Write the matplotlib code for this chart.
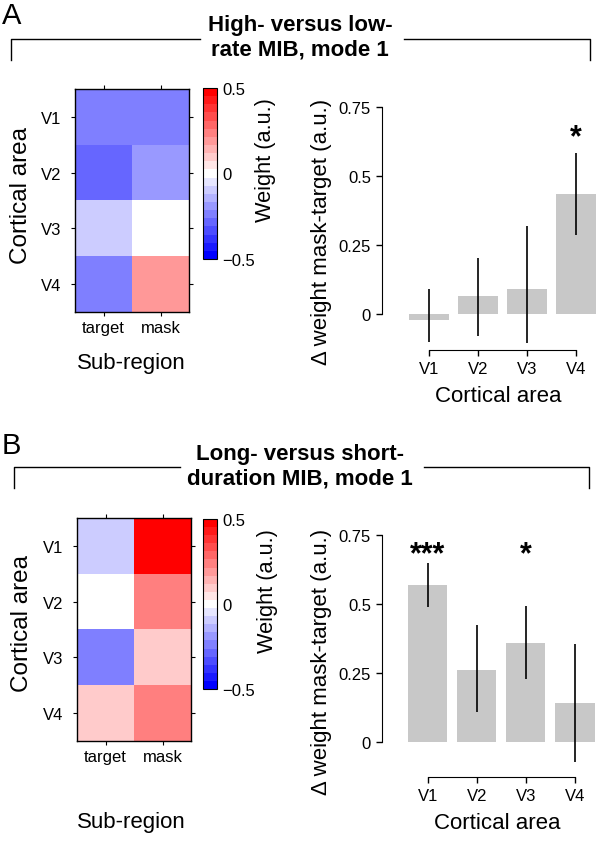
import numpy as np
import matplotlib
matplotlib.use("Agg")
import matplotlib.pyplot as plt
from matplotlib.lines import Line2D

plt.rcParams['font.family'] = ['Liberation Sans', 'DejaVu Sans']

# データ
areas = ['V1', 'V2', 'V3', 'V4']
subregions = ['target', 'mask']

# 重み (行: 領域, 列: target / mask)
weights_a = [[-0.225, -0.225],
             [-0.285, -0.175],
             [-0.11, 0.0],
             [-0.225, 0.175]]
weights_b = [[-0.115, 0.5],
             [0.0, 0.235],
             [-0.225, 0.115],
             [0.115, 0.235]]

# mask - target の差分と信頼区間
diff_a = [-0.02, 0.064, 0.09, 0.437]
low_a = [-0.10, -0.081, -0.103, 0.287]
high_a = [0.09, 0.205, 0.32, 0.586]
stars_a = ['', '', '', '*']

diff_b = [0.57, 0.263, 0.36, 0.141]
low_b = [0.49, 0.109, 0.227, -0.072]
high_b = [0.65, 0.423, 0.495, 0.354]
stars_b = ['***', '', '*', '']

title_a = "High- versus low-\nrate MIB, mode 1"
title_b = "Long- versus short-\nduration MIB, mode 1"

W, H = 600, 853
fig = plt.figure(figsize=(W / 100, H / 100), dpi=100)
cmap = plt.get_cmap('bwr', 21)


def px_rect(x0, y0, x1, y1):
    # ピクセル座標 -> figure座標
    return [x0 / W, 1 - y1 / H, (x1 - x0) / W, (y1 - y0) / H]


def label(x, y, s, size, rot=0, **kw):
    fig.text(x / W, 1 - y / H, s, fontsize=size, rotation=rot,
             ha='center', va='center', **kw)


def draw_heatmap(rect, cbar_rect, data, ylab_pos, sub_pos, weight_pos):
    ax = fig.add_axes(px_rect(*rect))
    im = ax.imshow(np.array(data), cmap=cmap, vmin=-0.5, vmax=0.5,
                   aspect='auto', interpolation='nearest')
    ax.set_xticks(range(len(subregions)))
    ax.set_xticklabels(subregions, fontsize=12)
    ax.set_yticks(range(len(areas)))
    ax.set_yticklabels(areas, fontsize=12)
    ax.tick_params(direction='out', length=3, width=0.8, top=True, right=True)
    ax.tick_params(axis='x', pad=3)
    ax.tick_params(axis='y', pad=7)
    for s in ax.spines.values():
        s.set_linewidth(1.0)
    label(*ylab_pos, "Cortical area", 17.5, rot=90)
    label(*sub_pos, "Sub-region", 16)

    cax = fig.add_axes(px_rect(*cbar_rect))
    cb = fig.colorbar(im, cax=cax, ticks=[-0.5, 0, 0.5])
    cb.ax.set_yticklabels(['\u22120.5', '0', '0.5'], fontsize=12)
    cb.ax.tick_params(length=0, pad=4)
    cb.outline.set_linewidth(0.8)
    label(*weight_pos, "Weight (a.u.)", 15.7, rot=90)


def draw_bars(rect, xlim, ylim, diff, low, high, stars, star_y, xlab_pos, ylab_pos):
    ax = fig.add_axes(px_rect(*rect))
    x = np.arange(len(areas))
    ax.bar(x, diff, width=0.8, color='#c8c8c8', linewidth=0)
    ax.vlines(x, low, high, color='black', linewidth=1.2)
    for xi, s in zip(x, stars):
        if s:
            ax.text(xi, star_y, s, ha='center', va='center', fontsize=22,
                    fontweight='bold')
    ax.set_xlim(*xlim)
    ax.set_ylim(*ylim)
    ax.spines['top'].set_visible(False)
    ax.spines['right'].set_visible(False)
    ax.spines['left'].set_bounds(0, 0.75)
    ax.spines['bottom'].set_bounds(0, 3)
    ax.set_yticks([0, 0.25, 0.5, 0.75])
    ax.set_yticklabels(['0', '0.25', '0.5', '0.75'], fontsize=12)
    ax.set_xticks(x)
    ax.set_xticklabels(areas, fontsize=12)
    ax.tick_params(direction='out', length=4, width=1, pad=4)
    label(*xlab_pos, "Cortical area", 16)
    label(*ylab_pos, "\u0394 weight mask-target (a.u.)", 16, rot=90)


def draw_header(letter, letter_y, title, title_y, line_y, left_end, right_start,
                tick_bottom, x_left, x_right):
    fig.text(2 / W, 1 - letter_y / H, letter, fontsize=21, ha='left', va='center')
    label(W / 2, title_y, title, 16, fontweight='bold', linespacing=1.24)
    yl = 1 - line_y / H
    yb = 1 - tick_bottom / H
    fig.add_artist(Line2D([x_left / W, x_left / W, left_end / W], [yb, yl, yl],
                          color='black', linewidth=1.0))
    fig.add_artist(Line2D([right_start / W, x_right / W, x_right / W], [yl, yl, yb],
                          color='black', linewidth=1.0))


# パネルA
draw_header('A', 16, title_a, 38, 39.5, 200, 404, 61, 11, 590)
draw_heatmap((75, 90, 189, 313), (203, 89, 217, 260), weights_a,
             (21, 195), (131, 364), (266, 160))
draw_bars((382, 100, 598, 351), (-0.959, 3.449), (-0.13, 0.78),
          diff_a, low_a, high_a, stars_a, 0.64, (498, 396), (321, 232))

# パネルB
draw_header('B', 446, title_b, 467, 468, 180, 424, 489, 14, 589)
draw_heatmap((77, 519, 191, 742), (203, 520, 217, 690), weights_b,
             (22, 624), (131.5, 823), (267, 591))
draw_bars((382, 528, 598, 778), (-0.93, 3.47), (-0.127, 0.78),
          diff_b, low_b, high_b, stars_b, 0.68, (497, 824), (321, 662))

fig.savefig("out.png", dpi=100)
